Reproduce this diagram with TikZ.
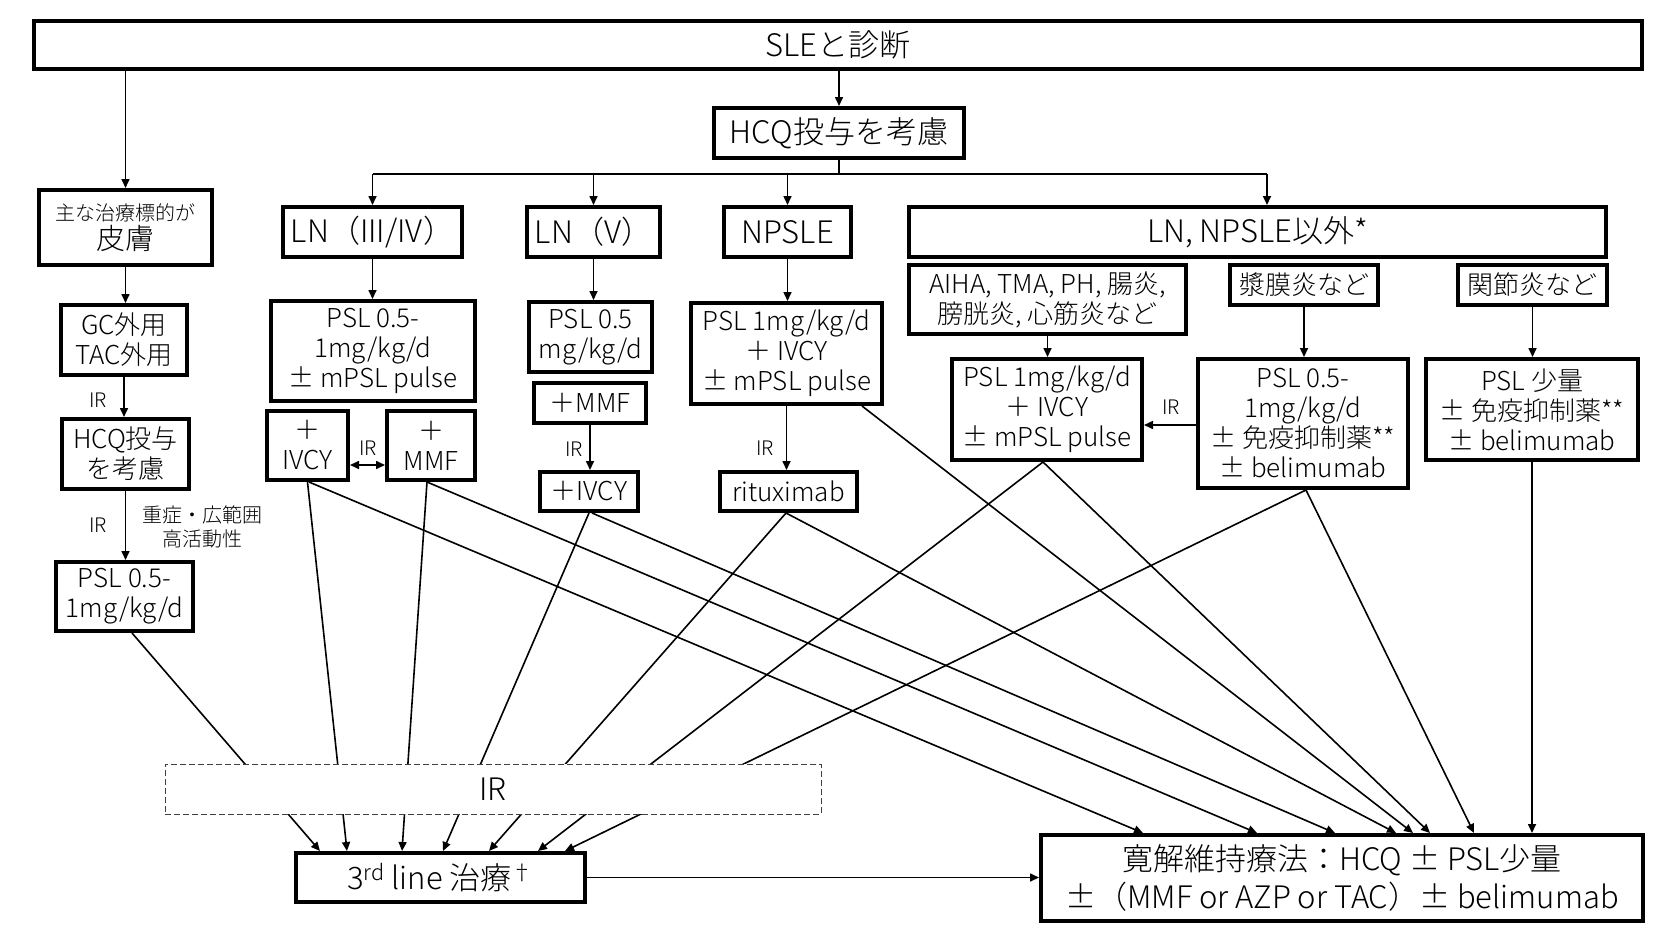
\documentclass[tikz,border=0pt]{standalone}
\usepackage{fontspec}
\setmainfont{Noto Sans CJK JP}[UprightFont=* Light]
\usetikzlibrary{arrows.meta, calc}
\newcommand{\fbig}{\fontsize{31}{38}\selectfont}
\newcommand{\fmed}{\fontsize{26}{30}\selectfont}
\newcommand{\fsml}{\fontsize{20}{24}\selectfont}
\tikzset{
  box/.style={draw, line width=4pt, inner sep=0pt, align=center},
  irbox/.style={draw=black!75, fill=white, dash pattern=on 6pt off 3pt, line width=1pt, inner sep=0pt, font=\fbig},
  arr/.style={line width=1.6pt, -{Triangle[length=9pt,width=8pt]}},
  darr/.style={line width=1.6pt, {Triangle[length=9pt,width=8pt]}-{Triangle[length=9pt,width=8pt]}},
  lbl/.style={inner sep=0pt, font=\fsml, align=center},
}

\begin{document}
\begin{tikzpicture}[x=1pt, y=-1pt]
\useasboundingbox (0,0) rectangle (1673,942);
\node[box, font=\fbig, minimum width=1608, minimum height=48] (sle) at (838,45) {SLEと診断};
\node[box, font=\fbig, minimum width=250, minimum height=50] (hcq) at (839,133) {HCQ投与を考慮};
\node[box, minimum width=173, minimum height=75] (skin) at (125.5,227.5) {{\fsml 主な治療標的が}\\[2pt]{\fontsize{29}{32}\selectfont 皮膚}};
\node[box, font=\fmed, minimum width=126, minimum height=70] (gc) at (124,340) {GC外用\\TAC外用};
\node[box, font=\fmed, minimum width=127, minimum height=70] (hcqs) at (125.5,454) {HCQ投与\\を考慮};
\node[box, font=\fmed, minimum width=137, minimum height=69] (pslL) at (124.5,596.5) {PSL 0.5-\\1mg/kg/d};
\node[box, font=\fbig, minimum width=179, minimum height=50] (ln34) at (372.5,232) {LN（III/IV）};
\node[box, font=\fmed, minimum width=204, minimum height=100] (psl34) at (373,351) {PSL 0.5-\\1mg/kg/d\\± mPSL pulse};
\node[box, font=\fmed, minimum width=81, minimum height=69] (ivcy34) at (307.5,445.5) {＋\\IVCY};
\node[box, font=\fmed, minimum width=88, minimum height=69] (mmf34) at (431,445.5) {＋\\MMF};
\node[box, font=\fbig, minimum width=133, minimum height=50] (ln5) at (593.5,232) {LN（V）};
\node[box, font=\fmed, minimum width=123, minimum height=70] (psl5) at (590.5,337) {PSL 0.5\\mg/kg/d};
\node[box, font=\fmed, minimum width=112, minimum height=40] (mmf5) at (590,403) {＋MMF};
\node[box, font=\fmed, minimum width=98, minimum height=39] (ivcy5) at (589,491.5) {＋IVCY};
\node[box, font=\fbig, minimum width=127, minimum height=50] (npsle) at (787.5,232) {NPSLE};
\node[box, font=\fmed, minimum width=191, minimum height=101] (pslnp) at (786.5,353.5) {PSL 1mg/kg/d\\＋ IVCY\\± mPSL pulse};
\node[box, font=\fmed, minimum width=137, minimum height=39] (ritux) at (788.5,491.5) {rituximab};
\node[box, font=\fbig, minimum width=697, minimum height=50] (other) at (1257.5,232) {LN, NPSLE以外*};
\node[box, font=\fmed, minimum width=277, minimum height=69] (aiha) at (1047.5,299.5) {AIHA, TMA, PH, 腸炎,\\膀胱炎, 心筋炎など};
\node[box, font=\fmed, minimum width=148, minimum height=40] (sero) at (1304,285) {漿膜炎など};
\node[box, font=\fmed, minimum width=149, minimum height=40] (arth) at (1532.5,285) {関節炎など};
\node[box, font=\fmed, minimum width=190, minimum height=101] (pslai) at (1047,409.5) {PSL 1mg/kg/d\\＋ IVCY\\± mPSL pulse};
\node[box, font=\fmed, minimum width=210, minimum height=129] (pslse) at (1303,423.5) {PSL 0.5-\\1mg/kg/d\\± 免疫抑制薬**\\± belimumab};
\node[box, font=\fmed, minimum width=212, minimum height=101] (pslar) at (1532,409.5) {PSL 少量\\± 免疫抑制薬**\\± belimumab};
\node[box, font=\fbig, minimum width=289, minimum height=49] (third) at (440.5,877.5) {3\textsuperscript{rd} line 治療\textsuperscript{†}};
\node[box, font=\fbig, minimum width=602, minimum height=86] (rem) at (1342,878) {寛解維持療法：HCQ ± PSL少量\\±（MMF or AZP or TAC）± belimumab};
\coordinate (bar) at (839,174);

\draw[arr] (sle.south -| hcq.north) -- (hcq.north);
\draw[arr] (sle.south -| skin.north) -- (skin.north);
\draw[line width=2pt] (hcq.south) -- (bar);
\draw[line width=2pt] (ln34.north |- bar) -- ([xshift=9.5]other.north |- bar);
\draw[arr] (ln34.north |- bar) -- (ln34.north);
\draw[arr] (ln5.north |- bar) -- (ln5.north);
\draw[arr] (npsle.north |- bar) -- (npsle.north);
\draw[arr] ([xshift=9.5]other.north |- bar) -- ([xshift=9.5]other.north);

\draw[arr] (skin.south) -- (skin.south |- gc.north);
\draw[arr] (gc.south) -- (gc.south |- hcqs.north);
\node[lbl] (irA) at (98,400) {IR};
\draw[arr] (hcqs.south) -- (hcqs.south |- pslL.north);
\node[lbl] (irB) at (98,525) {IR};
\node[lbl] (severe) at (202,527) {重症・広範囲\\高活動性};

\draw[arr] (ln34.south) -- (ln34.south |- psl34.north);
\draw[darr] ([yshift=-19.5]ivcy34.east) -- ([yshift=-19.5]mmf34.west);
\node[lbl] (irC) at (368,448) {IR};
\draw[arr] (ln5.south) -- (ln5.south |- psl5.north);
\draw[arr] (mmf5.south) -- (mmf5.south |- ivcy5.north);
\node[lbl] (irD) at (574,449) {IR};
\draw[arr] (npsle.south) -- (npsle.south |- pslnp.north);
\draw[arr] (pslnp.south) -- (pslnp.south |- ritux.north);
\node[lbl] (irE) at (765,448) {IR};
\draw[arr] (aiha.south) -- (aiha.south |- pslai.north);
\draw[arr] (sero.south) -- (sero.south |- pslse.north);
\draw[arr] (arth.south) -- (arth.south |- pslar.north);
\draw[arr] ([yshift=-1.5]pslse.west) -- ([yshift=-1.5]pslse.west -| pslai.east);
\node[lbl] (irF) at (1171,407) {IR};

\draw[arr] ([xshift=7.5]pslL.south) -- ([xshift=-120.5]third.north);
\draw[arr] (ivcy34.south) -- ([xshift=-93.5]third.north);
\draw[arr] ([xshift=-4]mmf34.south) -- ([xshift=-38.5]third.north);
\draw[arr] (ivcy5.south) -- ([xshift=2.5]third.north);
\draw[arr] ([xshift=-2.5]ritux.south) -- ([xshift=48.5]third.north);
\draw[arr] ([xshift=-4]pslai.south) -- ([xshift=97.5]third.north);
\draw[arr] ([xshift=3]pslse.south) -- ([xshift=124.5]third.north);

\draw[arr] ([xshift=1.5]ivcy34.south) -- ([xshift=-199]rem.north);
\draw[arr] ([xshift=-4]mmf34.south) -- ([xshift=-85]rem.north);
\draw[arr] ([xshift=3]ivcy5.south) -- ([xshift=-7]rem.north);
\draw[arr] ([xshift=-2.5]ritux.south) -- ([xshift=54]rem.north);
\draw[arr] ([xshift=75.5]pslnp.south) -- ([xshift=71]rem.north);
\draw[arr] ([xshift=-4]pslai.south) -- ([xshift=88]rem.north);
\draw[arr] ([xshift=3]pslse.south) -- ([xshift=132]rem.north);
\draw[arr] (pslar.south) -- (pslar.south |- rem.north);

\node[irbox, minimum width=656, minimum height=50] (ir) at (493,789) {IR};
\draw[arr] (third.east) -- (third.east -| rem.west);
\end{tikzpicture}
\end{document}
